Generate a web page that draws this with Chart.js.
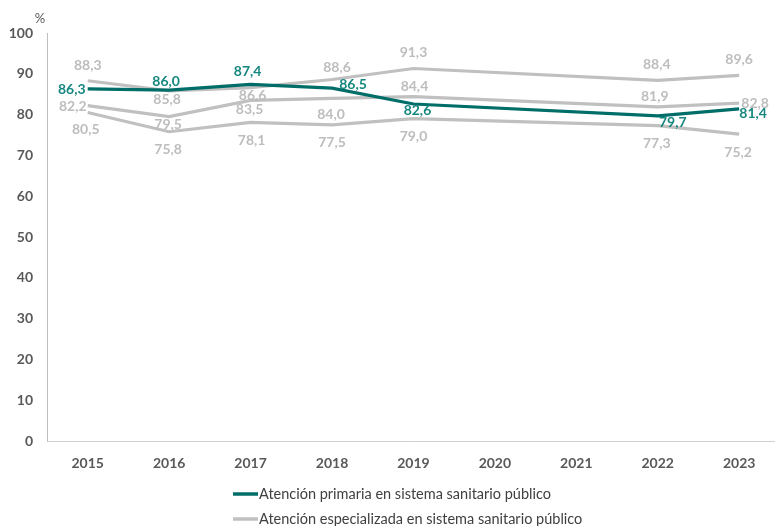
<!DOCTYPE html>
<html>
<head>
<meta charset="utf-8">
<script src="https://cdn.jsdelivr.net/npm/chart.js@4"></script>
<style>
html,body{margin:0;padding:0;background:#fff;}
#wrap{width:775px;height:526px;position:relative;}
</style>
</head>
<body>
<div id="wrap"><canvas id="c" width="775" height="526"></canvas></div>
<script>
// ---- data ----
const years = [2015, 2016, 2017, 2018, 2019, 2020, 2021, 2022, 2023];
const yTicks = [0, 10, 20, 30, 40, 50, 60, 70, 80, 90, 100];
const primaria = [86.3, 86.0, 87.4, 86.5, 82.6, null, null, 79.7, 81.4];
const especializadaA = [88.3, 85.8, 86.6, 88.6, 91.3, null, null, 88.4, 89.6];
const especializadaB = [82.2, 79.5, 83.5, 84.0, 84.4, null, null, 81.9, 82.8];
const especializadaC = [80.5, 75.8, 78.1, 77.5, 79.0, null, null, 77.3, 75.2];
const seriesNames = [
  'Atención primaria en sistema sanitario público',
  'Atención especializada en sistema sanitario público'
];
const unitLabel = '%';

// ---- label placement (style) ----
const offPrim = [[-16,1],[-3,-9],[-3,-13],[21,-4],[4,6],null,null,[15,7],[14,5]];
const offA = [[0,-15],[-2,9],[2,8],[5,-12],[0,-16],null,null,[-1,-16],[0,-16]];
const offB = [[-15,1],[-1,8],[-1,9],[-1,16],[1,-10],null,null,[-3,-10],[16,0]];
const offC = [[-2,17],[-1,18],[1,18],[0,18],[0,18],null,null,[-1,18],[-1,18]];

const TEAL = '#006E68', TEAL_TXT = '#16877F', GRAY = '#C0C0C0', GRAY_TXT = '#BDBDBD';
const FONT = 'Lato, "Open Sans", sans-serif';

function pts(arr){ return arr.map((v,i)=>({x:years[i], y:v})); }

const datasets = [
  {label: seriesNames[0], data: pts(primaria), borderColor: TEAL, backgroundColor: TEAL,
   borderWidth: 3.2, pointRadius: 0, tension: 0, spanGaps: true,
   _lbl: {off: offPrim, color: TEAL_TXT, weight: 'bold'}, _legend: true},
  {label: seriesNames[1], data: pts(especializadaA), borderColor: GRAY, backgroundColor: GRAY,
   borderWidth: 3.2, pointRadius: 0, tension: 0, spanGaps: true,
   _lbl: {off: offA, color: GRAY_TXT, weight: 'bold'}, _legend: true},
  {label: seriesNames[1] + ' (B)', data: pts(especializadaB), borderColor: GRAY, backgroundColor: GRAY,
   borderWidth: 3.2, pointRadius: 0, tension: 0, spanGaps: true,
   _lbl: {off: offB, color: GRAY_TXT, weight: 'bold'}, _legend: false},
  {label: seriesNames[1] + ' (C)', data: pts(especializadaC), borderColor: GRAY, backgroundColor: GRAY,
   borderWidth: 3.2, pointRadius: 0, tension: 0, spanGaps: true,
   _lbl: {off: offC, color: GRAY_TXT, weight: 'bold'}, _legend: false}
];

const labelPlugin = {
  id: 'valueLabels',
  afterDatasetsDraw(chart){
    const ctx = chart.ctx;
    ctx.save();
    ctx.textAlign = 'center';
    ctx.textBaseline = 'middle';
    chart.data.datasets.forEach((ds, di)=>{
      const meta = chart.getDatasetMeta(di);
      const cfg = ds._lbl;
      ctx.font = cfg.weight + ' 14px ' + FONT;
      ctx.fillStyle = cfg.color;
      meta.data.forEach((el, i)=>{
        const v = ds.data[i].y;
        if (v == null || !cfg.off[i]) return;
        const txt = v.toFixed(1).replace('.', ',');
        ctx.fillText(txt, el.x + cfg.off[i][0], el.y + cfg.off[i][1]);
      });
    });
    ctx.restore();
  }
};

const extrasPlugin = {
  id: 'extras',
  afterDraw(chart){
    const ctx = chart.ctx;
    ctx.save();
    ctx.font = '13px ' + FONT;
    ctx.fillStyle = '#595959';
    ctx.textAlign = 'center';
    ctx.textBaseline = 'middle';
    ctx.fillText(unitLabel, 40, 19);
    const items = chart.data.datasets.filter(d=>d._legend);
    ctx.font = '14.5px ' + FONT;
    const sw = 25;
    let maxW = 0;
    items.forEach(d=>{ maxW = Math.max(maxW, ctx.measureText(d.label).width); });
    const left = Math.round(408 - (sw + 1 + maxW)/2);
    const rowY = [494, 519];
    items.forEach((d, k)=>{
      const y = rowY[k];
      ctx.strokeStyle = d.borderColor;
      ctx.lineWidth = 3.5;
      ctx.beginPath();
      ctx.moveTo(left, y);
      ctx.lineTo(left + sw, y);
      ctx.stroke();
      ctx.fillStyle = '#404040';
      ctx.textAlign = 'left';
      ctx.fillText(d.label, left + sw + 1, y);
    });
    ctx.restore();
  }
};

new Chart(document.getElementById('c'), {
  type: 'line',
  data: { datasets },
  options: {
    responsive: false,
    animation: false,
    devicePixelRatio: 1,
    layout: { padding: { top: 33, right: 0, left: 0, bottom: 0 } },
    plugins: { legend: { display: false }, tooltip: { enabled: false } },
    scales: {
      x: {
        type: 'linear',
        min: 2014.5,
        max: 2023.44,
        afterBuildTicks(s){ s.ticks = years.map(v=>({value: v})); },
        afterFit(s){ s.height = 85; },
        grid: { display: false, drawTicks: false },
        border: { display: true, color: '#D0D0D0', width: 1 },
        ticks: { padding: 14, color: '#595959', font: { family: FONT, size: 14, weight: 'bold' },
                 callback: v => String(v), autoSkip: false, maxRotation: 0 }
      },
      y: {
        min: 0, max: 100,
        afterBuildTicks(s){ s.ticks = yTicks.map(v=>({value: v})); },
        afterFit(s){ s.width = 47; },
        grid: { display: false, drawTicks: false },
        border: { display: true, color: '#BFBFBF', width: 1 },
        ticks: { padding: 14, color: '#595959', font: { family: FONT, size: 14, weight: 'bold' } }
      }
    }
  },
  plugins: [labelPlugin, extrasPlugin]
});
</script>
</body>
</html>
